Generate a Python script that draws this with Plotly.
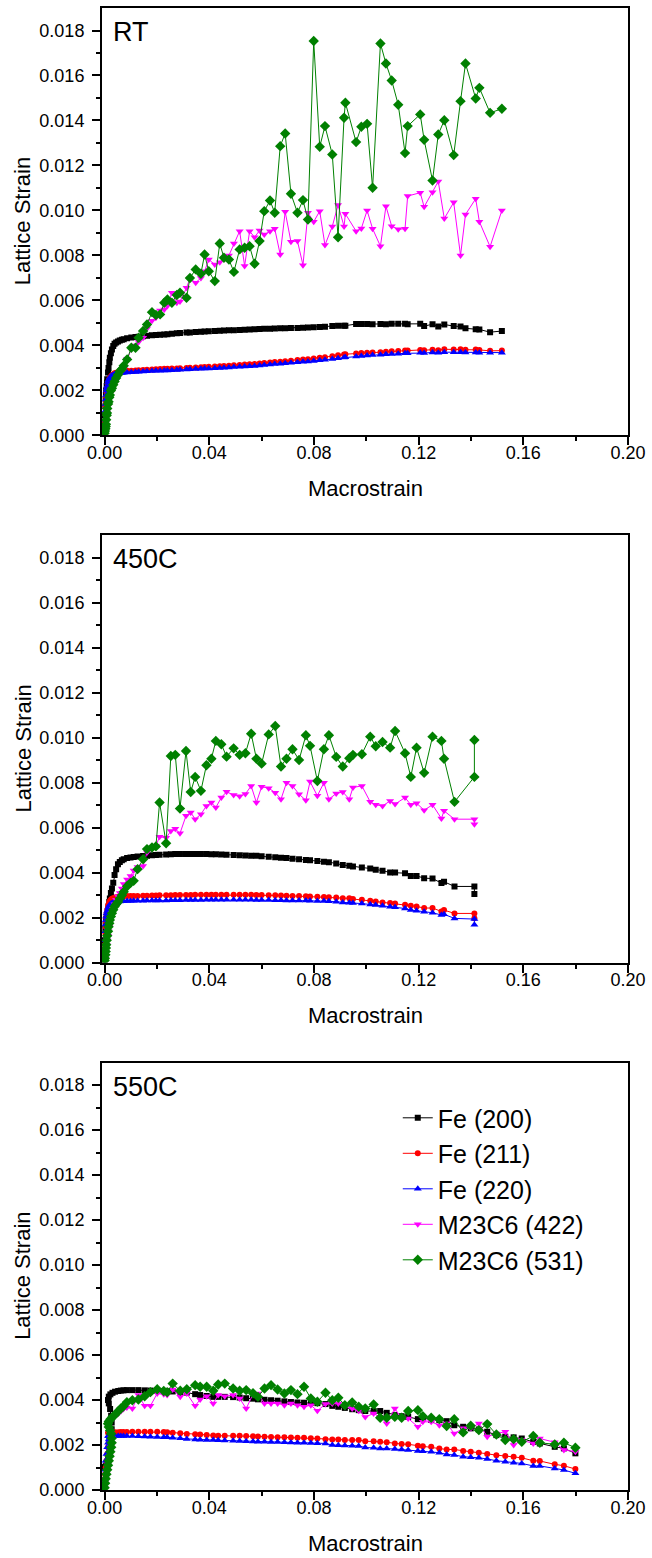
import plotly.graph_objects as go

# ---------------- data (lattice strain values in units of 1e-3) ----------------
# RT
strain_rt = [0.0000, 0.0001, 0.0003, 0.0004, 0.0005, 0.0006, 0.0008, 0.0009, 0.0010, 0.0013,
             0.0015, 0.0018, 0.0020, 0.0024, 0.0028, 0.0033, 0.0038, 0.0044, 0.0051, 0.0058,
             0.0066, 0.0073,
             0.0086, 0.0102, 0.0118, 0.0130, 0.0147, 0.0162, 0.0181, 0.0196, 0.0212, 0.0228,
             0.0240, 0.0257, 0.0276, 0.0288, 0.0313, 0.0326, 0.0348, 0.0368, 0.0382, 0.0398,
             0.0421, 0.0440, 0.0456, 0.0475, 0.0494, 0.0516, 0.0535, 0.0554, 0.0573, 0.0592,
             0.0610, 0.0632, 0.0650, 0.0671, 0.0690, 0.0712, 0.0737, 0.0758, 0.0777, 0.0799,
             0.0822, 0.0842,
             0.0870, 0.0892, 0.0915, 0.0920, 0.0961, 0.0981, 0.1003, 0.1024, 0.1054, 0.1075,
             0.1097, 0.1122, 0.1148, 0.1158, 0.1206, 0.1221, 0.1253, 0.1275, 0.1298, 0.1334,
             0.1360, 0.1379, 0.1418, 0.1432, 0.1473, 0.1518]
fe200_rt = [0.3, 0.9, 1.3, 1.6, 1.8, 2.0, 2.2, 2.35, 2.5, 2.8, 3.0, 3.25, 3.45, 3.65, 3.82, 3.97,
            4.07, 4.13, 4.18, 4.22, 4.25, 4.28,
            4.32, 4.35, 4.37, 4.39, 4.41, 4.43, 4.45, 4.46, 4.48, 4.49,
            4.50, 4.52, 4.54, 4.55, 4.57, 4.58, 4.60, 4.61, 4.62, 4.63,
            4.64, 4.65, 4.66, 4.67, 4.68, 4.69, 4.70, 4.71, 4.72, 4.73,
            4.74, 4.74, 4.75, 4.76, 4.76, 4.77, 4.78, 4.79, 4.80, 4.81,
            4.82, 4.83,
            4.86, 4.87, 4.88, 4.88, 4.95, 4.95, 4.95, 4.94, 4.95, 4.94,
            4.96, 4.96, 4.96, 4.94, 4.96, 4.86, 4.94, 4.84, 4.93, 4.86,
            4.84, 4.76, 4.72, 4.71, 4.59, 4.64]
fe211_rt = [0.2, 0.6, 1.0, 1.3, 1.5, 1.7, 1.9, 2.0, 2.1, 2.3, 2.4, 2.5, 2.55, 2.62, 2.68, 2.72,
            2.76, 2.79, 2.81, 2.83, 2.84, 2.85,
            2.87, 2.88, 2.89, 2.90, 2.91, 2.92, 2.93, 2.94, 2.95, 2.96,
            2.96, 2.97, 2.98, 2.99, 3.00, 3.01, 3.02, 3.03, 3.04, 3.05,
            3.06, 3.08, 3.09, 3.10, 3.12, 3.13, 3.15, 3.16, 3.18, 3.20,
            3.22, 3.24, 3.26, 3.28, 3.30, 3.32, 3.35, 3.37, 3.39, 3.42,
            3.45, 3.47,
            3.52, 3.56, 3.60, 3.61, 3.64, 3.66, 3.67, 3.69, 3.70, 3.72,
            3.74, 3.75, 3.77, 3.77, 3.80, 3.79, 3.81, 3.79, 3.83, 3.82,
            3.83, 3.81, 3.82, 3.80, 3.76, 3.77]
fe220_rt = [0.2, 0.7, 1.1, 1.4, 1.6, 1.8, 2.0, 2.1, 2.2, 2.35, 2.45, 2.52, 2.57, 2.62, 2.66, 2.69,
            2.72, 2.74, 2.76, 2.77, 2.78, 2.79,
            2.80, 2.81, 2.82, 2.83, 2.84, 2.85, 2.86, 2.87, 2.88, 2.89,
            2.89, 2.90, 2.91, 2.92, 2.93, 2.94, 2.95, 2.96, 2.97, 2.98,
            2.99, 3.00, 3.01, 3.02, 3.04, 3.05, 3.06, 3.08, 3.09, 3.11,
            3.13, 3.15, 3.17, 3.19, 3.21, 3.23, 3.25, 3.27, 3.29, 3.31,
            3.34, 3.36,
            3.40, 3.43, 3.46, 3.47, 3.51, 3.53, 3.55, 3.57, 3.59, 3.61,
            3.62, 3.63, 3.65, 3.65, 3.68, 3.66, 3.69, 3.68, 3.70, 3.70,
            3.70, 3.69, 3.69, 3.68, 3.67, 3.68]
m422_rt = [0.0, 0.1, 0.2, 0.3, 0.4, 0.6, 0.8, 1.0, 1.1, 1.3, 1.4, 1.6, 1.7, 1.9, 2.0, 2.2,
           2.3, 2.45, 2.6, 2.75, 2.85, 2.95,
           3.40, 3.85, 4.00, 4.15, 4.34, 4.75, 5.10, 5.23, 5.55, 5.60,
           5.75, 6.34, 5.90, 5.95, 6.56, 6.98, 6.79, 7.00, 7.30, 7.82,
           7.60, 7.70, 7.90, 8.00, 8.53, 9.08, 7.53, 9.08, 8.81, 9.11,
           8.93, 9.08, 9.19, 8.04, 9.94, 8.61, 8.64, 7.57, 9.90, 9.50,
           9.97, 8.46,
           9.29, 10.24, 9.29, 9.85, 9.08, 9.20, 10.00, 9.19, 8.41, 10.19,
           9.30, 9.16, 9.19, 10.64, 10.79, 10.16, 10.81, 11.29, 9.64, 10.36,
           8.00, 9.82, 10.52, 9.50, 8.39, 10.00]
m531_rt = [0.1, 0.2, 0.3, 0.4, 0.5, 0.7, 0.9, 1.0, 1.2, 1.4, 1.5, 1.7, 1.8, 2.0, 2.1, 2.25,
           2.4, 2.55, 2.7, 2.85, 2.95, 3.1,
           3.38, 3.90, 3.90, 4.34, 4.64, 4.93, 5.48, 5.35, 5.38, 5.90,
           6.04, 5.90, 6.24, 6.34, 6.12, 7.00, 7.38, 7.19, 8.04, 7.30,
           6.86, 8.53, 7.90, 7.82, 7.27, 8.27, 8.34, 8.41, 7.63, 8.64,
           9.97, 10.44, 9.90, 12.86, 13.42, 10.74, 9.90, 10.46, 9.60, 17.53,
           12.83, 13.75,
           12.49, 8.81, 14.12, 14.79, 13.04, 13.72, 13.85, 11.01, 17.42, 16.53,
           15.78, 14.70, 12.55, 13.75, 14.27, 13.14, 11.33, 13.38, 14.01, 12.46,
           14.86, 16.53, 14.98, 15.45, 14.34, 14.52]

# 450C
strain_450 = [0.0000, 0.0001, 0.0003, 0.0004, 0.0005, 0.0006, 0.0008, 0.0010, 0.0013, 0.0015,
              0.0018, 0.0020, 0.0024, 0.0028, 0.0033, 0.0038, 0.0044, 0.0051, 0.0058, 0.0066,
              0.0073,
              0.0086, 0.0099, 0.0111, 0.0126, 0.0147, 0.0162, 0.0181, 0.0196, 0.0210, 0.0235,
              0.0253, 0.0270, 0.0288, 0.0311, 0.0329, 0.0346, 0.0368, 0.0389, 0.0408, 0.0425,
              0.0446, 0.0466, 0.0493, 0.0516, 0.0538, 0.0560, 0.0580, 0.0600, 0.0627, 0.0652,
              0.0674, 0.0695, 0.0718, 0.0743, 0.0769, 0.0785, 0.0813, 0.0838, 0.0857,
              0.0885, 0.0910, 0.0935, 0.0949, 0.0983, 0.1015, 0.1036, 0.1062, 0.1091, 0.1110,
              0.1148, 0.1170, 0.1192, 0.1221, 0.1253, 0.1287, 0.1297, 0.1337, 0.1413, 0.1413]
fe200_450 = [0.2, 1.0, 1.5, 1.7, 1.85, 1.95, 2.05, 2.15, 2.35, 2.5, 2.7, 2.85, 3.1, 3.3, 3.55,
             3.9, 4.16, 4.38, 4.48, 4.55, 4.60,
             4.66, 4.68, 4.70, 4.72, 4.74, 4.76, 4.78, 4.79, 4.80, 4.81,
             4.82, 4.83, 4.83, 4.83, 4.83, 4.83, 4.83, 4.83, 4.82, 4.82,
             4.81, 4.80, 4.79, 4.78, 4.77, 4.76, 4.75, 4.73, 4.71, 4.69,
             4.67, 4.65, 4.62, 4.60, 4.57, 4.55, 4.52, 4.49, 4.47,
             4.41, 4.34, 4.31, 4.28, 4.23, 4.19, 4.13, 4.09, 4.01, 4.01,
             3.98, 3.86, 3.86, 3.76, 3.74, 3.54, 3.60, 3.39, 3.39, 3.05]
fe211_450 = [0.2, 0.8, 1.3, 1.6, 1.8, 2.0, 2.2, 2.35, 2.5, 2.6, 2.68, 2.74, 2.8, 2.84, 2.87,
             2.89, 2.91, 2.92, 2.93, 2.94, 2.95,
             2.96, 2.96, 2.97, 2.97, 2.98, 2.98, 2.99, 2.99, 3.00, 3.00,
             3.00, 3.01, 3.01, 3.01, 3.01, 3.02, 3.02, 3.02, 3.02, 3.02,
             3.02, 3.02, 3.02, 3.02, 3.02, 3.02, 3.01, 3.01, 3.00, 3.00,
             2.99, 2.98, 2.97, 2.96, 2.95, 2.94, 2.93, 2.92, 2.91,
             2.90, 2.87, 2.86, 2.83, 2.80, 2.75, 2.72, 2.68, 2.65, 2.63,
             2.58, 2.53, 2.50, 2.43, 2.43, 2.28, 2.34, 2.19, 2.19, 1.98]
fe220_450 = [0.3, 1.0, 1.4, 1.7, 1.9, 2.05, 2.2, 2.3, 2.4, 2.48, 2.54, 2.58, 2.62, 2.65, 2.67,
             2.69, 2.70, 2.71, 2.72, 2.73, 2.73,
             2.74, 2.74, 2.75, 2.75, 2.75, 2.76, 2.76, 2.77, 2.77, 2.77,
             2.78, 2.78, 2.78, 2.79, 2.79, 2.79, 2.79, 2.80, 2.80, 2.80,
             2.80, 2.80, 2.80, 2.80, 2.80, 2.80, 2.79, 2.79, 2.79, 2.78,
             2.78, 2.77, 2.77, 2.76, 2.76, 2.75, 2.74, 2.74, 2.73,
             2.71, 2.68, 2.66, 2.65, 2.63, 2.59, 2.57, 2.53, 2.49, 2.46,
             2.41, 2.34, 2.31, 2.26, 2.22, 2.12, 2.15, 1.97, 1.94, 1.69]
m422_450 = [0.0, 0.1, 0.2, 0.3, 0.45, 0.6, 0.8, 1.0, 1.2, 1.4, 1.6, 1.8, 2.0, 2.2, 2.4,
            2.6, 2.8, 2.95, 3.1, 3.3, 3.5,
            3.70, 3.85, 4.10, 4.25, 4.30, 4.90, 5.10, 5.20, 5.60, 5.55,
            5.85, 5.95, 5.75, 6.53, 6.68, 6.38, 6.60, 6.97, 7.12, 6.90,
            7.34, 7.60, 7.45, 7.40, 7.50, 7.86, 7.12, 7.82, 7.76, 7.56,
            7.27, 8.00, 7.86, 7.49, 7.22, 8.05, 7.42, 8.00, 7.27,
            7.52, 7.59, 7.27, 7.79, 7.86, 7.15, 7.02, 6.97, 7.19, 7.05,
            7.34, 7.02, 7.09, 6.78, 7.02, 6.41, 6.75, 6.38, 6.38, 6.16]
m531_450 = [0.1, 0.2, 0.35, 0.5, 0.65, 0.8, 1.0, 1.2, 1.4, 1.6, 1.75, 1.9, 2.05, 2.2, 2.35,
            2.5, 2.6, 2.7, 2.85, 3.0, 3.15,
            3.40, 3.55, 3.64, 4.16, 4.60, 5.05, 5.12, 5.17, 7.12, 5.31,
            9.19, 9.24, 6.85, 9.41, 7.59, 8.26, 7.64, 8.78, 9.07, 9.86,
            9.71, 9.16, 9.53, 9.24, 9.31, 10.18, 9.07, 8.85, 10.15, 10.52,
            8.72, 9.07, 9.49, 9.01, 10.11, 9.64, 8.08, 9.49, 10.11,
            9.15, 8.72, 9.09, 9.24, 9.27, 10.05, 9.62, 9.81, 9.56, 10.30,
            9.31, 8.26, 9.56, 8.44, 10.05, 9.86, 9.07, 7.15, 8.26, 9.90]

# 550C
strain_550 = [0.0000, 0.0002, 0.0004, 0.0007, 0.0010, 0.0013, 0.0016, 0.0019, 0.0022, 0.0025,
              0.0027, 0.0027, 0.0025, 0.0021, 0.0016, 0.0013, 0.0016, 0.0022, 0.0030, 0.0040,
              0.0052, 0.0062, 0.0072, 0.0085, 0.0106, 0.0129, 0.0153, 0.0175, 0.0201, 0.0226,
              0.0239, 0.0260, 0.0289, 0.0314, 0.0346, 0.0365, 0.0390, 0.0415, 0.0434, 0.0459,
              0.0491, 0.0516, 0.0541, 0.0567, 0.0586, 0.0611, 0.0636, 0.0661, 0.0687, 0.0712,
              0.0737, 0.0762, 0.0788, 0.0813, 0.0844,
              0.0870, 0.0893, 0.0918, 0.0946, 0.0971, 0.0996, 0.1028, 0.1053, 0.1078, 0.1109,
              0.1135, 0.1160, 0.1197, 0.1216, 0.1248, 0.1279, 0.1307, 0.1336, 0.1370, 0.1399,
              0.1430, 0.1462, 0.1497, 0.1531, 0.1563, 0.1594, 0.1638, 0.1663, 0.1720, 0.1755,
              0.1799]
fe200_550 = [1.00, 1.02, 1.05, 1.10, 1.20, 1.35, 1.55, 1.80, 2.10, 2.40,
             2.70, 3.00, 3.30, 3.60, 3.85, 4.00, 4.15, 4.25, 4.32, 4.37,
             4.40, 4.42, 4.43, 4.44, 4.44, 4.44, 4.43, 4.42, 4.41, 4.40,
             4.39, 4.38, 4.36, 4.33, 4.26, 4.22, 4.18, 4.14, 4.14, 4.14,
             4.13, 4.11, 4.08, 4.06, 4.03, 4.01, 3.99, 3.97, 3.94, 3.91,
             3.89, 3.88, 3.88, 3.86, 3.82,
             3.74, 3.70, 3.65, 3.59, 3.55, 3.51, 3.51, 3.51, 3.43, 3.33,
             3.28, 3.25, 3.15, 3.21, 3.11, 3.11, 3.06, 2.88, 2.81, 2.74,
             2.69, 2.59, 2.44, 2.37, 2.34, 2.29, 2.14, 2.07, 1.92, 1.85,
             1.63]
fe211_550 = [0.3, 0.7, 1.0, 1.3, 1.6, 1.9, 2.1, 2.3, 2.4, 2.45,
             2.5, 2.52, 2.53, 2.53, 2.53, 2.54, 2.54, 2.55, 2.56, 2.57,
             2.57, 2.58, 2.58, 2.58, 2.59, 2.59, 2.59, 2.59, 2.59, 2.58,
             2.57, 2.55, 2.52, 2.49, 2.48, 2.47, 2.45, 2.42, 2.41, 2.41,
             2.41, 2.41, 2.40, 2.39, 2.38, 2.37, 2.36, 2.35, 2.34, 2.33,
             2.32, 2.32, 2.30, 2.29, 2.26,
             2.25, 2.25, 2.22, 2.22, 2.22, 2.17, 2.17, 2.14, 2.12, 2.07,
             2.04, 2.03, 1.97, 1.95, 1.92, 1.85, 1.80, 1.80, 1.73, 1.70,
             1.66, 1.60, 1.55, 1.51, 1.48, 1.43, 1.30, 1.29, 1.14, 1.08,
             0.93]
fe220_550 = [0.4, 0.9, 1.3, 1.6, 1.9, 2.1, 2.25, 2.32, 2.36, 2.38,
             2.39, 2.40, 2.40, 2.40, 2.40, 2.40, 2.40, 2.40, 2.40, 2.40,
             2.40, 2.40, 2.40, 2.40, 2.40, 2.39, 2.38, 2.37, 2.36, 2.35,
             2.34, 2.32, 2.30, 2.27, 2.25, 2.23, 2.22, 2.22, 2.21, 2.20,
             2.19, 2.18, 2.17, 2.16, 2.15, 2.14, 2.13, 2.13, 2.12, 2.11,
             2.10, 2.10, 2.09, 2.08, 2.07,
             2.00, 1.99, 1.98, 1.97, 1.96, 1.89, 1.88, 1.85, 1.84, 1.82,
             1.80, 1.78, 1.73, 1.72, 1.70, 1.66, 1.58, 1.56, 1.48, 1.46,
             1.43, 1.38, 1.30, 1.26, 1.21, 1.18, 1.07, 1.07, 0.96, 0.89,
             0.74]
m422_550 = [0.1, 0.3, 0.5, 0.7, 0.9, 1.1, 1.3, 1.5, 1.7, 1.9,
            2.1, 2.3, 2.5, 2.65, 2.8, 2.9, 3.0, 3.1, 3.2, 3.3,
            3.40, 3.50, 3.60, 3.67, 3.62, 4.22, 3.74, 3.74, 4.29, 4.26,
            4.22, 4.47, 4.14, 4.29, 3.74, 4.02, 4.17, 3.85, 4.22, 4.17,
            4.22, 4.07, 3.62, 4.26, 4.29, 3.85, 3.85, 3.85, 3.77, 3.85,
            3.77, 3.70, 3.77, 3.52, 3.82,
            3.85, 3.85, 3.70, 3.62, 3.52, 3.25, 3.40, 3.25, 2.96, 3.62,
            3.18, 3.18, 2.81, 3.03, 3.03, 2.88, 2.96, 2.51, 2.74, 2.74,
            2.96, 2.37, 2.51, 2.59, 2.00, 2.22, 2.07, 2.29, 2.12, 1.78,
            1.70]
m531_550 = [0.1, 0.3, 0.5, 0.7, 0.9, 1.1, 1.3, 1.5, 1.7, 1.9,
            2.1, 2.3, 2.5, 2.65, 2.8, 2.95, 3.05, 3.15, 3.25, 3.35,
            3.50, 3.62, 3.72, 3.90, 3.99, 4.02, 4.17, 4.35, 4.48, 4.40,
            4.35, 4.73, 4.41, 4.48, 4.66, 4.59, 4.59, 4.41, 4.69, 4.73,
            4.51, 4.41, 4.44, 4.30, 4.14, 4.51, 4.66, 4.47, 4.29, 4.44,
            4.26, 4.59, 4.07, 3.92, 4.32,
            3.99, 4.10, 3.77, 3.89, 3.70, 3.62, 3.80, 3.21, 3.21, 3.25,
            3.21, 3.51, 3.55, 3.28, 3.21, 3.15, 2.84, 3.15, 2.56, 2.86,
            2.66, 2.93, 2.47, 2.22, 2.26, 2.14, 2.40, 2.10, 2.03, 2.10,
            1.88]

series_names = ["Fe (200)", "Fe (211)", "Fe (220)", "M23C6 (422)", "M23C6 (531)"]
panel_labels = ["RT", "450C", "550C"]
x_ticks = [0.00, 0.04, 0.08, 0.12, 0.16, 0.20]
y_ticks = [0.000, 0.002, 0.004, 0.006, 0.008, 0.010, 0.012, 0.014, 0.016, 0.018]

panels = [
    (strain_rt, [fe200_rt, fe211_rt, fe220_rt, m422_rt, m531_rt]),
    (strain_450, [fe200_450, fe211_450, fe220_450, m422_450, m531_450]),
    (strain_550, [fe200_550, fe211_550, fe220_550, m422_550, m531_550]),
]
for xs, ys in panels:
    for y in ys:
        assert len(xs) == len(y), (len(xs), len(y))

# ---------------- styles ----------------
colors = ["#000000", "#ff0000", "#0000ff", "#ff00ff", "#008000"]
symbols = ["square", "circle", "triangle-up", "triangle-down", "diamond"]
msizes = [6, 6, 7, 7, 8]
FONT = "Liberation Sans, Arial, Helvetica, sans-serif"

domains = [[0.71159, 1.0], [0.35580, 0.64420], [0.0, 0.28841]]

fig = go.Figure()
for p, (xs, ys) in enumerate(panels):
    sfx = "" if p == 0 else str(p + 1)
    for s, y in enumerate(ys):
        fig.add_trace(go.Scatter(
            x=xs, y=[v * 1e-3 for v in y],
            mode="lines+markers",
            name=series_names[s],
            line=dict(color=colors[s], width=1),
            marker=dict(symbol=symbols[s], size=msizes[s], color=colors[s],
                        line=dict(width=0)),
            xaxis="x" + sfx, yaxis="y" + sfx,
            showlegend=(p == 2),
        ))

layout = dict(
    width=652, height=1558,
    margin=dict(l=102, r=20, t=6, b=68),
    plot_bgcolor="white", paper_bgcolor="white",
    font=dict(family=FONT, size=18, color="black"),
    legend=dict(x=0.5623, y=0.2665, xanchor="left", yanchor="top",
                font=dict(size=25, family=FONT), bgcolor="rgba(0,0,0,0)",
                borderwidth=0, tracegroupgap=0),
)
annotations = []
for p in range(3):
    sfx = "" if p == 0 else str(p + 1)
    d0, d1 = domains[p]
    layout["xaxis" + sfx] = dict(
        domain=[0, 1], anchor="y" + sfx, range=[-0.001, 0.2],
        tickmode="array", tickvals=x_ticks, ticktext=["%.2f" % v for v in x_ticks],
        ticks="outside", ticklen=8, tickwidth=1.5, tickcolor="black",
        showline=True, linewidth=2, linecolor="black", mirror=True,
        showgrid=False, zeroline=False,
        minor=dict(tickmode="array", tickvals=[0.02, 0.06, 0.10, 0.14, 0.18],
                   ticks="outside", ticklen=4, tickwidth=1.5, tickcolor="black"),
        tickfont=dict(size=18), ticklabelstandoff=-8,
    )
    layout["yaxis" + sfx] = dict(
        domain=[d0, d1], anchor="x" + sfx, range=[0, 0.019],
        tickmode="array", tickvals=y_ticks, ticktext=["%.3f" % v for v in y_ticks],
        ticks="outside", ticklen=8, tickwidth=1.5, tickcolor="black",
        showline=True, linewidth=2, linecolor="black", mirror=True,
        showgrid=False, zeroline=False,
        minor=dict(tickmode="array",
                   tickvals=[0.001, 0.003, 0.005, 0.007, 0.009, 0.011, 0.013, 0.015, 0.017],
                   ticks="outside", ticklen=4, tickwidth=1.5, tickcolor="black"),
        tickfont=dict(size=18), ticklabelstandoff=4,
    )
    annotations.append(dict(text=panel_labels[p], xref="paper", yref="paper",
                            x=0.017, y=d1, xanchor="left", yanchor="middle",
                            yshift=-24, showarrow=False, font=dict(size=27)))
    annotations.append(dict(text="Lattice Strain", xref="paper", yref="paper",
                            x=-0.151, y=(d0 + d1) / 2, xanchor="center", yanchor="middle",
                            textangle=-90, showarrow=False, font=dict(size=22)))
    annotations.append(dict(text="Macrostrain", xref="paper", yref="paper",
                            x=0.5, y=d0, xanchor="center", yanchor="middle",
                            yshift=-53, showarrow=False, font=dict(size=22)))
layout["annotations"] = annotations
fig.update_layout(**layout)

fig.write_html("out.html")
